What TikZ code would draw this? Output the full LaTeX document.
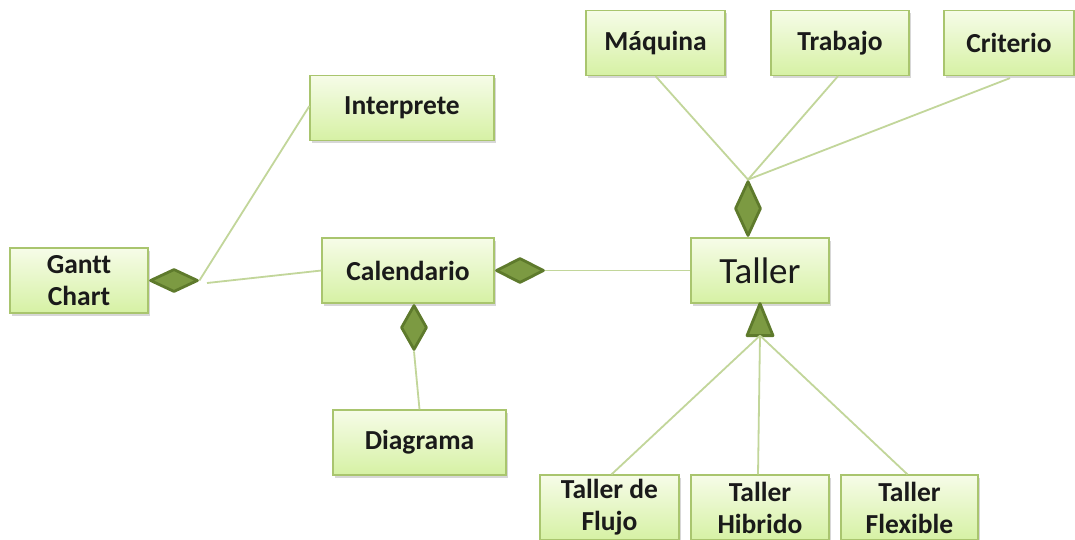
\documentclass[tikz,border=0pt]{standalone}
\usepackage{fontspec}
\setmainfont[Ligatures=NoCommon]{Carlito}
\usetikzlibrary{shapes.geometric,shadows}
\definecolor{boxtop}{HTML}{F6FCE8}
\definecolor{boxbot}{HTML}{D6F1A4}
\definecolor{boxline}{HTML}{A9C56E}
\definecolor{linkline}{HTML}{C2D69A}
\definecolor{aggfill}{HTML}{7C9A42}
\definecolor{aggline}{HTML}{5E7A2C}
\definecolor{ink}{HTML}{1A1A1A}
\tikzset{
  cls/.style={draw=boxline, line width=1.2pt, top color=boxtop, bottom color=boxbot,
    minimum height=65, inner sep=0pt, align=center, text=ink,
    font=\fontsize{27.5}{32}\selectfont\bfseries,
    drop shadow={shadow xshift=1.5pt, shadow yshift=-2.5pt, opacity=0.22, fill=black!70}},
  link/.style={draw=linkline, line width=1.8pt},
  agg/.style={diamond, draw=aggline, fill=aggfill, line width=2.8pt, inner sep=0pt, line join=round},
  gen/.style={draw=aggline, fill=aggfill, line width=2.8pt, line join=round}
}
\begin{document}
\begin{tikzpicture}[x=1pt,y=-1pt]
\useasboundingbox (0,0) rectangle (1075,539);
\fill[white] (0,0) rectangle (1075,539);
\begin{scope}
\clip (0,0) rectangle (1075,539);
% classes
\node[cls, minimum width=139] (maq) at (655.5,43) {Máquina};
\node[cls, minimum width=138] (trab) at (840,43) {Trabajo};
\node[cls, minimum width=130] (crit) at (1009,43) {Criterio};
\node[cls, minimum width=184] (interp) at (402,108) {Interprete};
\node[cls, minimum width=138] (gantt) at (79,280.5) {Gantt\\Chart};
\node[cls, minimum width=172] (cal) at (408,270.5) {Calendario};
\node[cls, minimum width=138, font=\fontsize{37}{42}\selectfont] (taller) at (760,270.5) {Taller};
\node[cls, minimum width=173] (diag) at (419.5,442.5) {Diagrama};
\node[cls, minimum width=139] (flujo) at (609.5,507.5) {Taller de\\Flujo};
\node[cls, minimum width=138] (hib) at (760,507.5) {Taller\\Hibrido};
\node[cls, minimum width=137] (flex) at (909.5,507.5) {Taller\\Flexible};

% aggregation diamonds
\node[agg, minimum width=26, minimum height=55, anchor=south] (dT) at ([xshift=-12]taller.north) {};
\node[agg, minimum width=48, minimum height=25, anchor=west] (dC) at (cal.east) {};
\node[agg, minimum width=26, minimum height=45, anchor=north] (dD) at ([xshift=6]cal.south) {};
\node[agg, minimum width=48, minimum height=23, anchor=west] (dG) at (gantt.east) {};
\coordinate (gfree) at (207,283);

% generalisation triangle
\draw[gen] (taller.south) -- ++(13,32) -- ++(-26,0) -- cycle;
\coordinate (tbase) at ([yshift=-32]taller.south);

% connectors
\draw[link] (dT.north) -- (maq.south);
\draw[link] (dT.north) -- ([xshift=-2]trab.south);
\draw[link] (dT.north) -- ([xshift=1,yshift=-2]crit.south);
\draw[link] (dC.east) -- (taller.west);
\draw[link] (dD.south) -- (diag.north);
\draw[link] (dG.east) -- ([yshift=2]interp.west);
\draw[link] (gfree) -- (cal.west);
\draw[link] (tbase) -- ([xshift=2]flujo.north);
\draw[link] (tbase) -- ([xshift=-2]hib.north);
\draw[link] (tbase) -- ([xshift=-2]flex.north);
\end{scope}
\end{tikzpicture}
\end{document}
